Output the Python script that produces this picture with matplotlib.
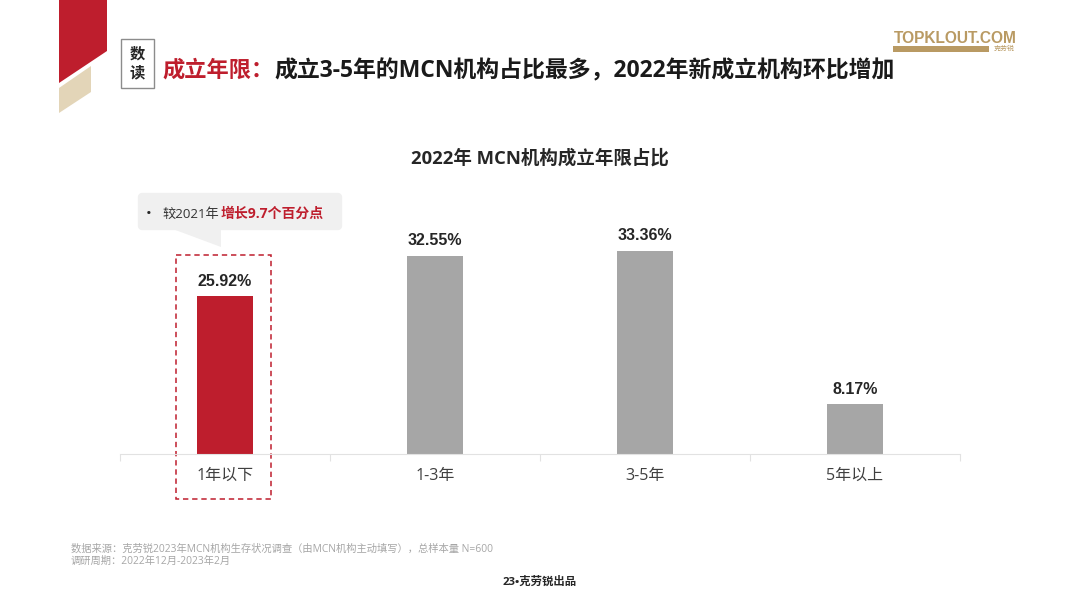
import matplotlib
matplotlib.use('Agg')
import matplotlib.pyplot as plt
from matplotlib.patches import Polygon, Rectangle, FancyBboxPatch

plt.rcParams['font.family'] = ['Open Sans', 'Noto Sans CJK SC', 'DejaVu Sans']

RED = '#be1e2d'
GREY = '#a6a6a6'
TAN = '#e3d5b8'
GOLD = '#b99a63'

categories = ['1年以下', '1-3年', '3-5年', '5年以上']
shares = [25.92, 32.55, 33.36, 8.17]
value_labels = ['25.92%', '32.55%', '33.36%', '8.17%']
bar_colors = [RED, GREY, GREY, GREY]

chart_title = '2022年 MCN机构成立年限占比'
headline_red = '成立年限：'
headline_black = '成立3-5年的MCN机构占比最多，2022年新成立机构环比增加'
source_lines = ['数据来源：克劳锐2023年MCN机构生存状况调查（由MCN机构主动填写），总样本量 N=600',
                '调研周期：2022年12月-2023年2月']

fig = plt.figure(figsize=(10.8, 6.07), dpi=100)

# overlay in pixel coordinates for the slide furniture
bg = fig.add_axes([0, 0, 1, 1])
bg.set_xlim(0, 1080)
bg.set_ylim(607, 0)
bg.axis('off')

# main chart
ax = fig.add_axes([120 / 1080, (607 - 454) / 607, 840 / 1080, 243.4 / 607])
ax.patch.set_alpha(0)
x = range(len(categories))
ax.bar(x, shares, width=0.262, color=bar_colors)
ax.set_xlim(-0.5, 3.5)
ax.set_ylim(0, 40)
ax.set_yticks([])
ax.set_xticks([i - 0.5 for i in range(5)])
ax.set_xticklabels([])
ax.set_xticks(list(x), categories, minor=True)
ax.tick_params(axis='x', which='major', length=5, color='#e2e2e2', direction='out', width=0.8)
ax.tick_params(axis='x', which='minor', length=0, labelsize=11.5, labelcolor='#404040', pad=10)
for side in ['top', 'left', 'right']:
    ax.spines[side].set_visible(False)
ax.spines['bottom'].set_color('#e2e2e2')
ax.spines['bottom'].set_linewidth(0.8)
for i, v in enumerate(shares):
    ax.annotate(value_labels[i], (i, v), xytext=(0, 5.5), textcoords='offset points',
                ha='center', va='bottom', fontsize=11.5, fontweight='bold',
                color='#262626', family=['Liberation Sans', 'DejaVu Sans'])

# corner ribbons
bg.add_patch(Polygon([(59, 0), (107, 0), (107, 51), (59, 83)], color=RED, lw=0))
bg.add_patch(Polygon([(59, 88), (91, 66), (91, 92), (59, 113)], color=TAN, lw=0))

# "数读" box
bg.add_patch(Rectangle((120.5, 39), 33.5, 49, fc='white', ec='#8c8c8c', lw=1))
bg.text(137, 54, '数', ha='center', va='center', fontsize=11, fontweight='bold', color='#262626')
bg.text(137, 73, '读', ha='center', va='center', fontsize=11, fontweight='bold', color='#262626')

# headline
bg.text(162, 71, headline_red, ha='left', va='center', fontsize=16, fontweight='bold', color=RED)
bg.text(274, 71, headline_black, ha='left', va='center', fontsize=16.5, fontweight='bold', color='#1a1a1a')

# logo
bg.text(955, 38.5, 'TOPKLOUT.COM', ha='center', va='center', fontsize=11.2, fontweight='bold',
        color=GOLD, family=['Liberation Sans', 'DejaVu Sans'])
bg.add_patch(Rectangle((893, 46), 96, 6, color=GOLD, lw=0))
bg.text(1004, 49.5, '克劳锐', ha='center', va='center', fontsize=5, color=GOLD)

# chart title
bg.text(539.5, 158, chart_title, ha='center', va='center', fontsize=13.3, fontweight='bold', color='#262626')

# callout
bg.add_patch(FancyBboxPatch((142, 197), 196, 29, boxstyle='round,pad=0,rounding_size=0',
                            fc='#f0f0f0', ec='#f0f0f0', lw=6, joinstyle='round'))
bg.add_patch(Polygon([(170, 228), (221, 228), (221, 247)], color='#f0f0f0', lw=0))
bg.text(149, 214, '•', ha='center', va='center', fontsize=11, color='#262626')
bg.text(162, 214, '较2021年', ha='left', va='center', fontsize=9.5, color='#333333')
bg.text(221, 214, '增长9.7个百分点', ha='left', va='center', fontsize=10, fontweight='bold', color=RED)

# dashed highlight
bg.add_patch(Rectangle((176, 255), 95, 244, fc='none', ec=RED, lw=1.1, ls=(0, (3.5, 2.5))))

# footer
bg.text(71, 549, source_lines[0], ha='left', va='center', fontsize=7.4, color='#a6a6a6')
bg.text(71, 561, source_lines[1], ha='left', va='center', fontsize=7.4, color='#a6a6a6')
bg.text(540, 582, '23•克劳锐出品', ha='center', va='center', fontsize=8.2, fontweight='bold', color='#262626')

fig.savefig('out.png', dpi=100)
